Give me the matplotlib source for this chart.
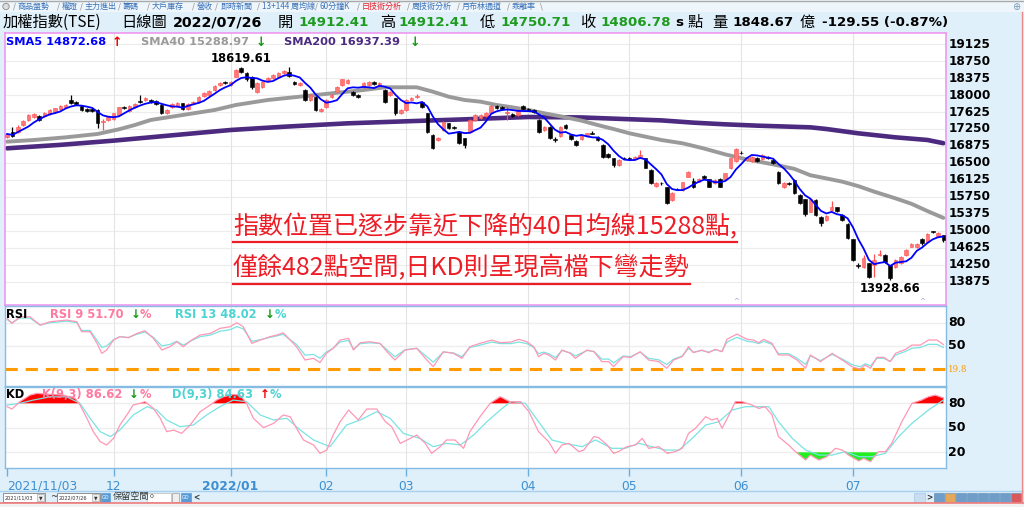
import matplotlib
matplotlib.use('Agg')
import matplotlib.pyplot as plt
import numpy as np
import pandas as pd
from matplotlib.patches import Rectangle, Circle
from matplotlib.lines import Line2D
from matplotlib.transforms import blended_transform_factory as btf

# ---------------- data ----------------
month_idx = [0, 20, 42, 60, 75, 98, 117, 138, 159]
month_labels = ['2021/11/03', '12', '2022/01', '02', '03', '04', '05', '06', '07']
price_ticks = [19125, 18750, 18375, 18000, 17625, 17250, 16875, 16500,
               16125, 15750, 15375, 15000, 14625, 14250, 13875]

O = [17081,17191,17191,17338,17450,17510,17540,17540,17580,17630,
     17690,17730,17890,17850,17760,17700,17700,17669,17400,17440,
     17460,17560,17730,17650,17740,17870,17880,17890,17870,17780,
     17610,17740,17760,17816,17700,17820,17850,17980,18000,18110,
     18220,18290,18220,18405,18600,18478,18405,18074,18184,18331,
     18380,18405,18490,18515,18294,18221,18110,17890,17963,17650,
     17730,17963,18074,18221,18258,18074,18000,18170,18221,18280,
     18200,18110,18000,17927,17610,17669,17900,17960,17853,17596,
     17118,17000,17228,17375,17300,17191,17045,17191,17449,17490,
     17530,17596,17760,17730,17600,17580,17559,17760,17700,17670,
     17450,17228,17302,17030,17100,17340,17118,16993,17025,17100,
     17170,17081,16900,16699,16600,16450,16620,16617,16580,16640,
     16600,16350,16000,16060,15963,15684,15930,15905,16199,16110,
     16088,16213,16140,16052,16140,16140,16383,16550,16730,16560,
     16552,16620,16580,16640,16566,16309,15978,16060,16125,15794,
     15699,15427,15684,15316,15243,15470,15522,15353,15155,14816,
     14240,14213,14287,14250,14470,14471,14250,14213,14287,14471,
     14655,14640,14816,14765,14990,14890,14912.41]
C = [17140,17100,17302,17420,17560,17580,17450,17600,17670,17706,
     17760,17780,17816,17800,17670,17650,17640,17375,17420,17520,
     17596,17730,17710,17760,17800,17840,17930,17840,17810,17610,
     17680,17800,17820,17690,17810,17850,17960,18050,18090,18190,
     18258,18260,18290,18552,18515,18346,18170,18258,18294,18380,
     18441,18490,18525,18420,18245,18258,17890,18000,17669,17700,
     17890,18000,18170,18346,18331,18000,17963,18258,18294,18250,
     18258,17853,18074,17596,17680,17900,17930,17975,17743,17191,
     16824,17045,17412,17265,17280,16934,16900,17449,17559,17560,
     17600,17760,17720,17700,17620,17540,17669,17700,17670,17620,
     17190,17302,17045,17010,17300,17265,17025,16900,17100,17155,
     17150,17000,16640,16625,16450,16560,16600,16580,16640,16680,
     16400,16050,16060,16050,15625,15846,15920,16074,16309,15978,
     16140,16162,15978,16125,15978,16272,16600,16810,16714,16620,
     16640,16552,16680,16600,16500,16066,16066,16045,15846,15610,
     15368,15699,15353,15184,15331,15540,15441,15243,14838,14360,
     14228,14397,13993,14360,14500,14324,13956,14360,14434,14581,
     14713,14720,14728,14934,14980,14949,14806.78]
H = [17160,17300,17330,17440,17580,17600,17560,17620,17690,17720,
     17780,17800,18000,17870,17780,17720,17720,17690,17480,17540,
     17610,17740,17760,17780,17830,18000,17950,17910,17890,17800,
     17700,17820,17840,17830,17830,17870,17980,18070,18110,18210,
     18280,18310,18320,18570,18619.61,18500,18420,18280,18310,18400,
     18460,18510,18545,18610,18310,18280,18130,18020,17980,17720,
     17910,18020,18190,18360,18350,18090,18020,18280,18310,18300,
     18280,18130,18090,17940,17700,17920,17950,18030,17870,17610,
     17130,17070,17430,17390,17320,17210,17060,17460,17580,17580,
     17620,17780,17780,17750,17750,17600,17690,17780,17720,17690,
     17470,17320,17320,17080,17320,17360,17130,17010,17120,17170,
     17200,17100,16920,16720,16620,16580,16640,16630,16660,16790,
     16620,16370,16080,16080,15980,15860,15950,16090,16320,16160,
     16160,16240,16150,16140,16160,16290,16610,16830,16760,16640,
     16660,16640,16700,16660,16580,16320,16080,16080,16140,15810,
     15710,15720,15700,15330,15350,15670,15540,15370,15170,14830,
     14300,14470,14300,14500,14580,14490,14260,14380,14450,14600,
     14730,14740,14840,14950,15010,14970,14912.41]
L = [17060,17080,17170,17320,17430,17490,17430,17520,17560,17610,
     17670,17710,17800,17780,17650,17630,17620,17280,17230,17420,
     17440,17540,17690,17630,17720,17820,17860,17820,17790,17590,
     17590,17720,17740,17670,17680,17800,17830,17960,17980,18090,
     18200,18240,18200,18390,18480,18320,18140,18040,18160,18310,
     18360,18390,18470,18400,18220,18200,17870,17870,17640,17620,
     17710,17940,18060,18200,18240,17980,17940,18150,18200,18230,
     18180,17830,17980,17560,17590,17650,17880,17940,17720,17170,
     16800,16980,17210,17250,17260,16910,16820,17170,17430,17470,
     17510,17580,17700,17680,17450,17520,17540,17680,17650,17600,
     17170,17210,17020,16960,17080,17250,17000,16880,17000,17080,
     17130,16980,16620,16600,16420,16430,16580,16560,16560,16620,
     16380,16030,15980,16020,15600,15660,15900,15890,16180,15950,
     16070,16150,15960,16030,15960,16120,16370,16530,16690,16540,
     16530,16530,16560,16580,16480,16040,15950,16020,15820,15590,
     15340,15410,15330,15110,15220,15430,15420,15220,14820,14340,
     14180,14190,13970,13990,14450,14300,13928.66,14190,14270,14450,
     14640,14620,14700,14740,14960,14870,14750.71]

sma40_idx = [0,5,11,17,21,24,27,33,39,43,49,55,61,67,71,77,80,83,86,89,92,95,
             98,101,105,108,111,114,117,120,123,127,131,135,139,144,148,151,154,
             157,160,163,167,170,173,176]
sma40_val = [16971,17007,17066,17140,17243,17338,17449,17559,17669,17780,17890,
             17963,18037,18110,18170,18170,18074,17963,17890,17853,17780,17728,
             17669,17596,17508,17434,17338,17250,17155,17081,17007,16934,16820,
             16690,16580,16470,16370,16230,16160,16088,15990,15868,15720,15600,
             15440,15289]
sma200_idx = [0,10,20,30,42,52,64,75,86,98,108,116,123,129,135,141,151,154,160,167,173,176]
sma200_val = [16824,16900,16993,17100,17228,17300,17375,17420,17463,17515,17505,
              17470,17440,17390,17353,17324,17287,17250,17155,17066,17008,16937]

rsi_x = [0,0.9,2.4,4.3,6.2,8.1,11.2,13.1,14,15.6,16.9,17.8,18.7,20,21.2,22.8,24.4,
         25.9,27.5,29.1,30.6,31.9,33.1,34.7,36.3,38.2,40,41.9,43.2,44.4,46,47.6,49.4,
         50.7,51.9,53.2,54.4,56,57.6,58.8,60,61.3,62.6,64.2,65.1,66.4,68.2,70.1,71.4,
         72.9,74.8,77,78.9,80.1,82,83.9,85.5,87,88.9,91.1,92.7,94.7,96.2,97.7,99,99.9,
         100.9,101.8,103.1,104.3,105.9,106.8,109,110.3,111.8,113.1,114,115.8,117.2,119,
         120.6,122.5,124,125.3,126.9,128.1,129,130.6,131.9,133.1,134.4,135.3,137.2,
         139.1,140.3,141.3,142.2,143.8,145,146.9,148.5,150.1,151,152,152.9,155.1,157,
         158.8,160.4,161.3,162.3,163.5,164.8,166,167,168.9,170.1,171.7,173.2,174.8,176]
rsi9 = [85.6,79.1,87.7,87.7,76.9,81.3,83.4,81.3,68.4,68.4,53.3,40.4,44.7,57.6,61.9,
        60.6,66.2,69.6,59.7,44.7,49,55.4,49,57.6,64.1,66.2,72.7,74.8,80,74.8,53.3,
        57.6,61.9,64,67,57.6,49,31.8,34,28.4,40.4,46.9,57.6,59.7,44.7,54.2,55.4,53.3,
        42.5,31.8,44.7,46.9,31.8,23.2,42.5,40.4,33.9,49,53.3,57.6,54.2,55,58.5,55.4,
        49,36.1,40.4,38.3,31.8,44.7,40.4,34,44.7,42.5,29.7,29.7,23.2,36.1,35.2,42.5,
        31.8,29.7,21.1,31.8,36.1,49,41.3,44.7,41.3,45.6,42.5,58.5,65.3,58.5,57.6,
        54.2,58.5,53.3,38.3,38.3,31.8,21.1,38.3,34,29.7,40.4,31.8,23.2,19.8,25.3,
        21.1,35.2,35.2,29.7,40.4,45.6,51.1,51.1,57.6,57.6,51.7]
rsi13 = [84,80,86,86,77,80,82,80,70,70,57,48,50,58,62,61,65,68,61,50,52,56,51,57,
         62,64,69,71,75,72,56,58,61,63,65,58,52,38,39,34,42,47,55,57,46,53,54,53,45,
         36,45,47,36,29,42,41,36,48,51,55,53,53,55,53,48,40,42,40,35,44,41,37,44,43,
         33,33,28,37,36,42,34,32,26,33,37,47,42,44,42,45,43,55,61,56,55,53,56,52,40,
         40,34,26,37,34,31,39,33,26,23,27,24,34,34,30,38,43,47,48,52,52,48]

k_x = [0,0.9,2.4,4.3,5.6,8.1,10.6,12.8,13.7,15,16.2,17.5,18.7,20,21.2,22.5,23.7,25,
       25.9,27.5,28.8,30,31.3,32.8,34.4,36.3,38.2,39.4,40.7,42.5,43.8,45,46.3,48.2,
       50.1,51.9,53.2,54.4,55.7,57.6,58.8,60.1,61.3,62.6,64.2,66,67.6,69.5,71.1,72.3,
       73.9,75.8,77,78.6,79.8,81.4,82.6,84.2,85.8,87,88.9,90.8,92.7,94.5,94.9,96.5,
       98.1,99.9,101.8,103.1,104.3,105.6,107.5,108.4,110.3,111.2,112.8,114,114.9,
       116.5,118.1,119.4,120.6,122.5,124.1,125.6,126.9,128.1,129.4,131.3,132.5,133.5,
       134.4,135.7,136.9,138.2,140,141.3,142.5,143.8,145,146.9,148.2,150.1,151,152.6,
       154.1,155.7,157,158.2,160.1,161,162.3,163.8,165.1,166.3,168.2,170.1,171.9,
       173.2,174.5,176]
k_val = [75.9,73,82,90,92.2,91,90,86,78,61.6,45.3,33,29,37.1,53.4,65.7,78,80,82,73.8,
         61.6,45.3,47.3,43.2,53.4,69.8,78,84,88.1,91,90,80,61.6,50.2,55.5,65.7,63.6,
         49.4,35.1,29,18.8,22.8,41.2,57.5,71.8,59.6,73,73,57.5,51.4,31,37.1,41.2,31,
         18.8,26.9,35.1,35.1,24.9,45.3,63.6,80,88.1,82,82,82,69.8,45.3,33,18.8,29,31,
         20.8,22.8,39.2,37.9,29,18.8,20.8,26.9,29,37.1,24.9,26.9,18.8,20.8,24.9,43.2,
         49.4,63.6,59.6,61.6,49.4,65.7,82,82,78,73.8,75.9,65.7,39.2,29,20.8,10.6,16.6,
         10.6,14.7,24.9,22.8,16.6,9.4,12.6,8.6,20.8,20.8,31,57.5,80,84,88,90,86.6]
d_x = [0,2.4,4.9,8.1,11.2,13.7,15.6,17.5,19.4,21.2,23.7,26.3,28.1,30,32.5,35,37.5,40,
       42.5,45,47.6,50.1,52.6,55.1,57.6,60.7,63.8,66.4,69.5,72,74.5,77.6,80.1,82.6,
       85.2,87.7,90.2,92.7,94.5,94.9,97.4,99.9,102.4,104.9,108.1,110.6,113.7,116.2,
       118.8,121.2,123.8,126.3,128.8,131.3,133.8,136.3,138.8,141.3,143.2,145,147.6,
       150.1,152.6,155.1,157.6,160.1,162.6,165.1,167.6,170.1,173.2,176]
d_val = [77.9,80,84,88,88,80,61.6,45.3,39.2,47.3,65.7,75.9,71.8,59.6,51.4,53.4,65.7,
         75.9,84,82,65.7,59.6,61.6,47.3,35.1,26.9,53.4,59.6,69.8,61.6,43.2,37.1,26.9,
         31,29,41.2,57.5,71.8,81.2,82,80,57.5,35.1,31,26.9,35.1,24.9,24.9,31,26.9,
         22.8,22.8,37.1,53.4,57.5,71.8,75.9,75.9,75.9,57.5,37.1,22.8,16.6,16.6,20.8,
         14.7,14.7,18.8,39.2,55.5,71.8,84]
rsi_ticks = [80, 50]
rsi_floor = 19.8
kd_ticks = [80, 50, 20]
event_idx = [137, 172]

# ---------------- layout helpers ----------------
W, Hpx = 1024, 507
fig = plt.figure(figsize=(W / 100, Hpx / 100), dpi=100)
fig.patch.set_facecolor('#dff0fb')
CJK = ['Noto Sans CJK TC', 'DejaVu Sans']


def ptext(x, y, s, **kw):
    kw.setdefault('va', 'center')
    kw.setdefault('zorder', 10)
    return fig.text(x / W, 1 - y / Hpx, s, **kw)


def px_axes(x0, y0, x1, y1, z=2):
    return fig.add_axes([x0 / W, 1 - y1 / Hpx, (x1 - x0) / W, (y1 - y0) / Hpx], zorder=z)


bg = fig.add_axes([0, 0, 1, 1], zorder=0)
bg.set_xlim(0, W)
bg.set_ylim(Hpx, 0)
bg.axis('off')
# tab row
bg.add_patch(Rectangle((0, 0), W, 12, color='#eef6fc', lw=0))
bg.plot([0, W], [0.6, 0.6], color='#aaaaaa', lw=1)
bg.add_patch(Circle((6, 6.5), 3.2, fc='#dddddd', ec='#888888', lw=0.6))
# bottom bar
bg.plot([0, W], [490.5, 490.5], color='#a8cfee', lw=1)
bg.plot([0, W], [502.6, 502.6], color='#f07c7c', lw=1.2)
bg.add_patch(Rectangle((0, 503.2), W, 4, color='#f2f2f2', lw=0))
bg.plot([1022, 1022], [12, 503], color='#f08a8a', lw=1)

XL = (-0.4, 176.5)
idx = np.arange(len(C))
Oa, Ha, La, Ca = map(np.array, (O, H, L, C))

# ---------------- main panel ----------------
ax = px_axes(5, 33, 946, 305)
ax.set_xlim(*XL)
ax.set_ylim(13367, 19368)
ax.set_xticks([])
ax.set_yticks([])
for s in ax.spines.values():
    s.set_color('#ee90ee')
    s.set_linewidth(1.1)
for p in price_ticks:
    ax.axhline(p, color='#ececec', lw=0.8, zorder=0)
for m in month_idx[1:]:
    ax.axvline(m, color='#e4e4e4', lw=0.8, zorder=0)

ax.plot(sma200_idx, sma200_val, color='#4b2a80', lw=3.3, zorder=2, solid_capstyle='round')
ax.plot(sma40_idx, sma40_val, color='#9a9a9a', lw=2.8, zorder=2, solid_capstyle='round')

up = Ca >= Oa
body_lo = np.minimum(Oa, Ca)
body_h = np.maximum(np.abs(Ca - Oa), 14)
ax.vlines(idx[up], La[up], Ha[up], color='#ff5050', lw=0.9, zorder=3)
ax.vlines(idx[~up], La[~up], Ha[~up], color='black', lw=0.9, zorder=3)
ax.bar(idx[up], body_h[up], bottom=body_lo[up], width=0.68, color='#ff7878',
       edgecolor='#ff5050', lw=0.4, zorder=4)
ax.bar(idx[~up], body_h[~up], bottom=body_lo[~up], width=0.68, color='black',
       edgecolor='black', lw=0.4, zorder=4)

sma5 = pd.Series(C).rolling(5, min_periods=1).mean()
ax.plot(idx, sma5, color='#0000ff', lw=1.3, zorder=5)

imax, imin = int(np.argmax(Ha)), int(np.argmin(La))
ax.annotate(f'{Ha[imax]:.2f}', (imax, Ha[imax]), xytext=(0, 1.5), textcoords='offset points',
            ha='center', va='bottom', fontsize=8.3, fontweight='bold', zorder=6)
ax.annotate(f'{La[imin]:.2f}', (imin, La[imin]), xytext=(0, -2), textcoords='offset points',
            ha='center', va='top', fontsize=8.3, fontweight='bold', zorder=6)
for e in event_idx:
    ax.text(e, 0.005, '^', transform=btf(ax.transData, ax.transAxes), ha='center',
            va='bottom', fontsize=5, color='#9a9ad8')

tr_r = btf(ax.transAxes, ax.transData)
for p in price_ticks:
    ax.text(1.0025, p, str(p), transform=tr_r, ha='left', va='center', fontsize=8.7,
            fontweight='bold', clip_on=False)

# legend of main panel
ptext(6, 42, 'SMA5 14872.68', color='#0000ff', fontsize=8.2, fontweight='bold')
ptext(112, 42, '↑', color='#ee0000', fontsize=9, fontweight='bold')
ptext(141, 42, 'SMA40 15288.97', color='#9a9a9a', fontsize=8.2, fontweight='bold')
ptext(256, 42, '↓', color='#119a11', fontsize=9, fontweight='bold')
ptext(284, 42, 'SMA200 16937.39', color='#4b2a80', fontsize=8.2, fontweight='bold')
ptext(410, 42, '↓', color='#119a11', fontsize=9, fontweight='bold')

# red comment text
t1 = ptext(233, 227, '指數位置已逐步靠近下降的40日均線15288點,', color='#ee1c25',
           fontsize=18, family=CJK)
t2 = ptext(233, 268, '僅餘482點空間,日KD則呈現高檔下彎走勢', color='#ee1c25',
           fontsize=18, family=CJK)

# ---------------- RSI panel ----------------
axr = px_axes(5, 306, 946, 386)
axr.set_xlim(*XL)
axr.set_ylim(-1.8, 101.6)
axr.set_xticks([])
axr.set_yticks([])
for s in axr.spines.values():
    s.set_color('#86bce2')
    s.set_linewidth(1.0)
for v in rsi_ticks:
    axr.axhline(v, color='#eeeeee', lw=1.0, zorder=0)
for m in month_idx[1:]:
    axr.axvline(m, color='#e4e4e4', lw=0.8, zorder=0)
axr.axhline(rsi_floor, color='#ff9a00', lw=2.2, ls=(0, (4, 2.6)), zorder=1)
axr.plot(rsi_x, rsi13, color='#7ae3e3', lw=0.9, zorder=2)
axr.plot(rsi_x, rsi9, color='#ff97b5', lw=0.9, zorder=3)
tr_rr = btf(axr.transAxes, axr.transData)
for v in rsi_ticks:
    axr.text(1.0025, v, str(v), transform=tr_rr, ha='left', va='center', fontsize=9,
             fontweight='bold', clip_on=False)
axr.text(1.0025, rsi_floor, f'{rsi_floor}', transform=tr_rr, ha='left', va='center',
         fontsize=6.3, color='#ff9a00', family='DejaVu Serif', clip_on=False)

ptext(6, 315, 'RSI', color='black', fontsize=8.3, fontweight='bold')
ptext(50, 315, 'RSI 9 51.70', color='#ff7aa0', fontsize=8.3, fontweight='bold')
ptext(131, 315, '↓', color='#119a11', fontsize=8.5, fontweight='bold')
ptext(140, 315, '%', color='#ff7aa0', fontsize=8.3, fontweight='bold')
ptext(175, 315, 'RSI 13 48.02', color='#4ed3d3', fontsize=8.3, fontweight='bold')
ptext(265, 315, '↓', color='#119a11', fontsize=8.5, fontweight='bold')
ptext(275, 315, '%', color='#4ed3d3', fontsize=8.3, fontweight='bold')

# ---------------- KD panel ----------------
axk = px_axes(5, 387, 946, 468)
axk.set_xlim(*XL)
axk.set_ylim(0.8, 100)
axk.set_yticks([])
for s in axk.spines.values():
    s.set_color('#86bce2')
    s.set_linewidth(1.0)
for v in kd_ticks:
    axk.axhline(v, color='#eeeeee', lw=1.0, zorder=0)
for m in month_idx[1:]:
    axk.axvline(m, color='#e4e4e4', lw=0.8, zorder=0)
kx, kv = np.array(k_x), np.array(k_val)
axk.fill_between(kx, kv, 80, where=kv >= 80, interpolate=True, color='#ff0000', lw=0, zorder=1)
axk.fill_between(kx, kv, 20, where=kv <= 20, interpolate=True, color='#22ee22', lw=0, zorder=1)
axk.plot(d_x, d_val, color='#7ae3e3', lw=0.9, zorder=2)
axk.plot(k_x, k_val, color='#ff97b5', lw=0.9, zorder=3)
tr_rk = btf(axk.transAxes, axk.transData)
for v in kd_ticks:
    axk.text(1.0025, v, str(v), transform=tr_rk, ha='left', va='center', fontsize=9,
             fontweight='bold', clip_on=False)

axk.set_xticks(month_idx)
axk.set_xticklabels(month_labels)
axk.tick_params(axis='x', direction='out', length=5.5, width=1, color='#6aaee0',
                labelsize=8.8, labelcolor='#3d8fd1', pad=3)
labs = axk.get_xticklabels()
labs[0].set_ha('left')
labs[2].set_fontweight('bold')

ptext(6, 395, 'KD', color='black', fontsize=8.3, fontweight='bold')
ptext(42, 395, 'K(9,3) 86.62', color='#ff7aa0', fontsize=8.3, fontweight='bold')
ptext(129, 395, '↓', color='#119a11', fontsize=8.5, fontweight='bold')
ptext(140, 395, '%', color='#ff7aa0', fontsize=8.3, fontweight='bold')
ptext(172, 395, 'D(9,3) 84.63', color='#4ed3d3', fontsize=8.3, fontweight='bold')
ptext(260, 395, '↑', color='#ee0000', fontsize=8.5, fontweight='bold')
ptext(270, 395, '%', color='#4ed3d3', fontsize=8.3, fontweight='bold')

# ---------------- header ----------------
tabs = ['商品盤勢', '權證', '主力進出', '籌碼', '大戶庫存', '營收', '即時新聞',
        '13+144 周均線', '60分鐘K', '日技術分析', '周技術分析', '月布林通道', '乖離率']
tab_x = [18, 62, 85, 123, 152, 197, 220, 262, 320, 362, 412, 462, 512]
for tx, tt in zip(tab_x, tabs):
    ptext(tx - 5, 6.5, '/', color='#999999', fontsize=6)
    ptext(tx, 6.5, tt, color='#e8202a' if tt == '日技術分析' else '#3a72b8',
          fontsize=5.8, family=CJK)
ptext(540, 6.5, '\\', color='#999999', fontsize=6)
ptext(1012, 7, '⊕', color='#7a9ab8', fontsize=7)

hy = 22.5
G = '#1f9b1f'
ptext(3, hy, '加權指數(TSE)', fontsize=11, family=CJK)
ptext(121, hy, '日線圖', fontsize=11, family=CJK)
ptext(173, hy, '2022/07/26', fontsize=10.3, fontweight='bold')
ptext(278, hy, '開', fontsize=11, family=CJK)
ptext(298, hy, '14912.41', fontsize=9.6, fontweight='bold', color=G)
ptext(380, hy, '高', fontsize=11, family=CJK)
ptext(398, hy, '14912.41', fontsize=9.6, fontweight='bold', color=G)
ptext(480, hy, '低', fontsize=11, family=CJK)
ptext(500, hy, '14750.71', fontsize=9.6, fontweight='bold', color=G)
ptext(580, hy, '收', fontsize=11, family=CJK)
ptext(600, hy, '14806.78', fontsize=9.6, fontweight='bold', color=G)
ptext(675, hy, 's', fontsize=9.6, fontweight='bold')
ptext(687, hy, '點', fontsize=11, family=CJK)
ptext(712, hy, '量', fontsize=11, family=CJK)
ptext(732, hy, '1848.67', fontsize=9.6, fontweight='bold')
ptext(800, hy, '億', fontsize=11, family=CJK)
ptext(822, hy, '-129.55 (-0.87%)', fontsize=9.6, fontweight='bold')

# ---------------- bottom controls ----------------
for x0, w, lab in ((3, 42, '2021/11/03'), (57, 43, '2022/07/26')):
    bg.add_patch(Rectangle((x0, 493), w, 9, fc='white', ec='#808080', lw=0.6))
    bg.add_patch(Rectangle((x0 + w - 8, 494), 7, 7, fc='#eeeeee', ec='#999999', lw=0.4))
    ptext(x0 + 1.5, 497.5, lab, fontsize=3.6, color='#333333')
    ptext(x0 + w - 6.5, 497.5, '▼', fontsize=3.3, color='#333333')
ptext(50, 497, '~', fontsize=6.5, color='#333333')
bg.add_patch(Rectangle((101, 493), 9, 9, fc='#5b9bd5', ec='#5b9bd5', lw=0.5))
ptext(101.5, 497.5, 'GO', fontsize=3.5, color='white')
ptext(113, 497, '保留空間', fontsize=6.6, family=CJK, color='#333333')
bg.add_patch(Rectangle((147, 493), 24, 9, fc='white', ec='#bbbbbb', lw=0.5))
ptext(150, 496, '0', fontsize=4.5, color='#333333')
bg.add_patch(Rectangle((172, 493), 7, 9, fc='#eeeeee', ec='#999999', lw=0.5))
bg.add_patch(Rectangle((181, 493), 10, 9, fc='#5b9bd5', ec='#5b9bd5', lw=0.5))
ptext(181.5, 497.5, 'GO', fontsize=3.5, color='white')
ptext(193, 497.5, '<', fontsize=5.5, color='#333333', fontweight='bold')
bg.add_patch(Rectangle((914, 493), 11, 9, fc='#c8def0', ec='#a9c9e6', lw=0.5))
ptext(926, 497.5, '>', fontsize=5.5, color='#333333', fontweight='bold')
icon_cols = ['#5b8fc0', '#e79a3c', '#5b8fc0', '#5b8fc0', '#5b8fc0', '#5b8fc0', '#5b8fc0', '#d94040']
for k, col in enumerate(icon_cols):
    bg.add_patch(Rectangle((934 + k * 11, 493), 10, 9, fc=col, ec='#4a7aa8', lw=0.4, alpha=0.85))

# underline for the comment text
fig.canvas.draw()
rend = fig.canvas.get_renderer()
for t, uy in ((t1, 242), (t2, 284)):
    bb = t.get_window_extent(renderer=rend)
    fig.add_artist(Line2D([bb.x0 / W, bb.x1 / W], [1 - uy / Hpx, 1 - uy / Hpx],
                          color='#ee1c25', lw=1.6, zorder=20))

fig.savefig('out.png', dpi=100)
